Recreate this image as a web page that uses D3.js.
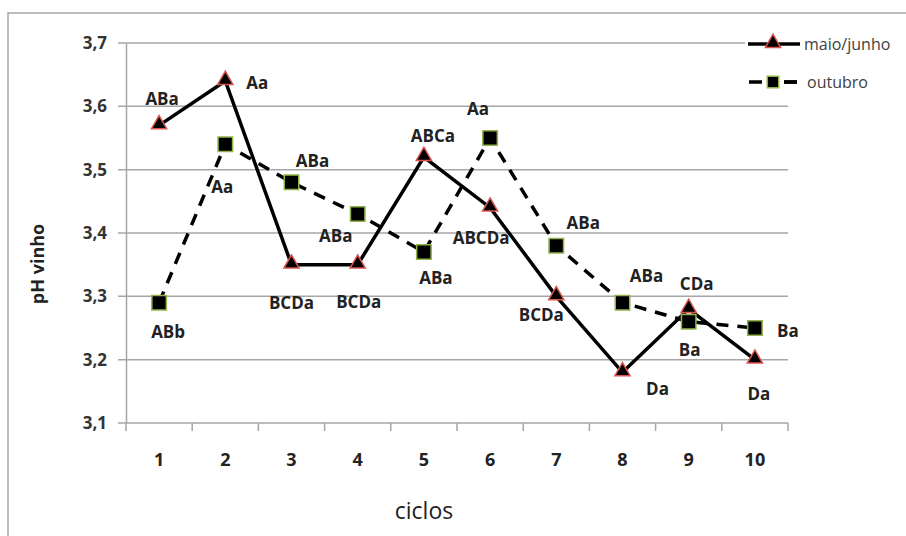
<!DOCTYPE html>
<html>
<head>
<meta charset="utf-8">
<script src="https://cdn.jsdelivr.net/npm/d3@7"></script>
<style>
  body { margin: 0; background: #fff; }
  svg text { font-family: "Open Sans", Lato, sans-serif; }
</style>
</head>
<body>
<div id="viz"></div>
<script>
// dados - data
var ciclos = ['1', '2', '3', '4', '5', '6', '7', '8', '9', '10'];
var maioJunho = [3.57, 3.64, 3.35, 3.35, 3.52, 3.44, 3.30, 3.18, 3.28, 3.20];
var outubro = [3.29, 3.54, 3.48, 3.43, 3.37, 3.55, 3.38, 3.29, 3.26, 3.25];
var letrasMaio = ['ABa', 'Aa', 'BCDa', 'BCDa', 'ABCa', 'ABCDa', 'BCDa', 'Da', 'CDa', 'Da'];
var letrasOut = ['ABb', 'Aa', 'ABa', 'ABa', 'ABa', 'Aa', 'ABa', 'ABa', 'Ba', 'Ba'];
var yTicks = [3.1, 3.2, 3.3, 3.4, 3.5, 3.6, 3.7];
var series = ['maio/junho', 'outubro'];

// onde ficam as letras (px, relativo ao ponto) - label placement
var posMaio = [[3,-26],[32,2],[0,38],[1,37],[9,-21],[-9,30],[-15,19],[35,17],[8,-25],[4,34]];
var posOut = [[9,29],[-3,43],[21,-21],[-22,22],[12,26],[-12,-29],[27,-23],[24,-27],[1,28],[33,3]];

var width = 906, height = 536;

var svg = d3.select('#viz')
  .append('svg')
  .attr('width', width)
  .attr('height', height);

// moldura - chart frame
svg.append('rect')
  .attr('x', 8).attr('y', 13)
  .attr('width', 910).attr('height', 540)
  .attr('fill', 'none')
  .attr('stroke', '#a6a6a6')
  .attr('stroke-width', 1.5);

var x = d3.scaleBand().domain(ciclos).range([126, 788]);
var y = d3.scaleLinear().domain([3.1, 3.7]).range([423, 43]);

var fmt = function(d) { return d3.format('.1f')(d).replace('.', ','); };

// grade - gridlines
svg.append('g')
  .selectAll('line')
  .data(yTicks)
  .join('line')
  .attr('x1', 118).attr('x2', 788)
  .attr('y1', function(d){ return y(d); })
  .attr('y2', function(d){ return y(d); })
  .attr('stroke', '#a6a6a6')
  .attr('stroke-width', 1.5);

// eixo y
var yAxis = svg.append('g')
  .attr('transform', 'translate(126,0)')
  .call(d3.axisLeft(y).tickValues(yTicks).tickFormat(fmt).tickSize(0).tickPadding(19));
yAxis.select('.domain').attr('stroke', '#a6a6a6').attr('stroke-width', 1.5);
yAxis.selectAll('text')
  .attr('font-size', '17px')
  .attr('font-weight', 'bold')
  .attr('fill', '#333');

// eixo x
var xAxis = svg.append('g')
  .attr('transform', 'translate(0,423)')
  .call(d3.axisBottom(x).tickSize(0).tickPadding(30));
xAxis.select('.domain').remove();
xAxis.selectAll('text')
  .attr('font-size', '18px')
  .attr('font-weight', 'bold')
  .attr('fill', '#222');

var bounds = ciclos.map(function(c){ return x(c); }).concat([x.range()[1]]);
svg.append('g')
  .selectAll('line')
  .data(bounds)
  .join('line')
  .attr('x1', function(d){ return d; })
  .attr('x2', function(d){ return d; })
  .attr('y1', 423).attr('y2', 431)
  .attr('stroke', '#a6a6a6')
  .attr('stroke-width', 1.5);

// titulos
svg.append('text')
  .text('ciclos')
  .attr('x', 424).attr('y', 519)
  .attr('text-anchor', 'middle')
  .attr('font-size', '23px')
  .attr('fill', '#222');

svg.append('text')
  .text('pH vinho')
  .attr('transform', 'translate(44,264) rotate(-90)')
  .attr('text-anchor', 'middle')
  .attr('font-size', '18px')
  .attr('font-weight', 'bold')
  .attr('fill', '#222');

var cx = function(d, i){ return x(ciclos[i]) + x.bandwidth()/2; };

var line = d3.line()
  .x(function(d, i){ return x(ciclos[i]) + x.bandwidth()/2; })
  .y(function(d){ return y(d); });

// outubro (tracejada)
svg.append('path')
  .datum(outubro)
  .attr('d', line)
  .attr('fill', 'none')
  .attr('stroke', '#000')
  .attr('stroke-width', 3.5)
  .attr('stroke-dasharray', '12,9');

// maio/junho (continua)
svg.append('path')
  .datum(maioJunho)
  .attr('d', line)
  .attr('fill', 'none')
  .attr('stroke', '#000')
  .attr('stroke-width', 3.5);

var tri = d3.symbol().type(d3.symbolTriangle).size(100);
var sq = d3.symbol().type(d3.symbolSquare).size(210);

svg.append('g')
  .selectAll('path')
  .data(outubro)
  .join('path')
  .attr('d', sq)
  .attr('transform', function(d, i){ return 'translate(' + cx(d, i) + ',' + y(d) + ')'; })
  .attr('fill', '#000')
  .attr('stroke', '#8fb34a')
  .attr('stroke-width', 1.5);

svg.append('g')
  .selectAll('path')
  .data(maioJunho)
  .join('path')
  .attr('d', tri)
  .attr('transform', function(d, i){ return 'translate(' + cx(d, i) + ',' + (y(d) - 1) + ')'; })
  .attr('fill', '#000')
  .attr('stroke', '#d9534f')
  .attr('stroke-width', 1.5);

// letras
function letras(vals, txt, pos) {
  svg.append('g')
    .selectAll('text')
    .data(vals)
    .join('text')
    .text(function(d, i){ return txt[i]; })
    .attr('x', function(d, i){ return cx(d, i) + pos[i][0]; })
    .attr('y', function(d, i){ return y(d) + pos[i][1]; })
    .attr('dy', '0.35em')
    .attr('text-anchor', 'middle')
    .attr('font-size', '17px')
    .attr('font-weight', 'bold')
    .attr('fill', '#222');
}
letras(maioJunho, letrasMaio, posMaio);
letras(outubro, letrasOut, posOut);

// legenda
var leg = svg.append('g');
var legY = [44, 82];
leg.append('rect')
  .attr('x', 745).attr('y', 34).attr('width', 60).attr('height', 20)
  .attr('fill', '#fff');
leg.append('line')
  .attr('x1', 748).attr('x2', 800).attr('y1', legY[0]).attr('y2', legY[0])
  .attr('stroke', '#000').attr('stroke-width', 3.5);
leg.append('line')
  .attr('x1', 749).attr('x2', 797).attr('y1', legY[1]).attr('y2', legY[1])
  .attr('stroke', '#000').attr('stroke-width', 3.5)
  .attr('stroke-dasharray', '13,22');
leg.append('line')
  .attr('x1', 784).attr('x2', 797).attr('y1', legY[1]).attr('y2', legY[1])
  .attr('stroke', '#000').attr('stroke-width', 3.5);
leg.append('path')
  .attr('d', tri)
  .attr('transform', 'translate(773,' + (legY[0] - 1) + ')')
  .attr('fill', '#000').attr('stroke', '#d9534f').attr('stroke-width', 1.5);
leg.append('path')
  .attr('d', d3.symbol().type(d3.symbolSquare).size(130))
  .attr('transform', 'translate(773,' + legY[1] + ')')
  .attr('fill', '#000').attr('stroke', '#8fb34a').attr('stroke-width', 1.5);
leg.selectAll('text.lg')
  .data(series)
  .join('text')
  .attr('class', 'lg')
  .text(function(d){ return d; })
  .attr('x', function(d, i){ return i === 0 ? 804 : 807; })
  .attr('y', function(d, i){ return legY[i]; })
  .attr('dy', '0.35em')
  .attr('font-size', '16px')
  .attr('fill', '#404040');
</script>
</body>
</html>
